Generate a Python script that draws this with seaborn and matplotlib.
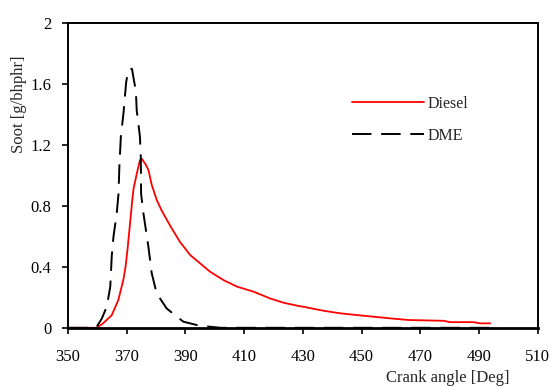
import numpy as np
import pandas as pd
import seaborn as sns
import matplotlib.pyplot as plt

# soot vs crank angle
diesel_angle = [350, 358, 359.8, 362, 364.9, 367.1, 368.8, 369.6, 370.3, 371.1, 371.9, 372.3,
                373.4, 374.5, 375.1, 376.2, 376.8, 377.4, 378.5, 380.2, 381.9, 384.8, 388.1,
                391.6, 395, 398.4, 403, 407.6, 413.2, 418.8, 423.5, 428.6, 430.2, 437, 442.7,
                451.8, 459.7, 466, 477.9, 480.2, 488.1, 490.4, 493.8]
diesel_soot = [0, 0, 0, 0.03, 0.083, 0.18, 0.31, 0.40, 0.52, 0.68, 0.84, 0.91,
               1.01, 1.10, 1.11, 1.08, 1.06, 1.036, 0.94, 0.84, 0.77, 0.67, 0.565,
               0.478, 0.423, 0.368, 0.313, 0.27, 0.237, 0.193, 0.164, 0.143, 0.138, 0.112, 0.095,
               0.077, 0.062, 0.051, 0.046, 0.037, 0.037, 0.029, 0.029]

dme_angle = [350, 358, 359.8, 361.5, 363.2, 364.4, 364.9, 365.5, 366.6, 367.2, 367.5, 368.0,
             368.9, 369.8, 370.5, 371.1, 371.8, 372.5, 373.1, 373.4, 374.5, 374.8, 374.9,
             375.7, 377.4, 378.5, 380.2, 383.6, 387.6, 389.3, 393.9, 398.4, 402, 494]
dme_soot = [0, 0, 0.007, 0.06, 0.138, 0.27, 0.47, 0.6, 0.75, 0.88, 1.06, 1.255,
            1.41, 1.61, 1.69, 1.70, 1.70, 1.62, 1.56, 1.43, 1.255, 1.12, 0.88,
            0.75, 0.53, 0.36, 0.226, 0.127, 0.065, 0.04, 0.018, 0.007, 0, 0]

x_ticks = [350, 370, 390, 410, 430, 450, 470, 490, 510]
y_ticks = [0, 0.4, 0.8, 1.2, 1.6, 2]
y_tick_labels = ['0', '0.4', '0.8', '1.2', '1.6', '2']

sns.set_style('white')
plt.rcParams['font.family'] = ['Liberation Serif', 'DejaVu Serif']

df_diesel = pd.DataFrame({'angle': diesel_angle, 'soot': diesel_soot})
df_dme = pd.DataFrame({'angle': dme_angle, 'soot': dme_soot})

fig, ax = plt.subplots(figsize=(5.55, 3.87), dpi=100)
fig.subplots_adjust(left=0.1225, right=0.969, top=0.94, bottom=0.153)

sns.lineplot(data=df_diesel, x='angle', y='soot', color='#ff0000', linewidth=1.3,
             label='Diesel', ax=ax, sort=False)
sns.lineplot(data=df_dme, x='angle', y='soot', color='black', linewidth=1.4,
             label='DME', ax=ax, sort=False)
ax.lines[1].set_dashes([10, 5])

ax.set_xlim(350, 510)
ax.set_ylim(0, 2)
ax.set_xticks(x_ticks)
ax.set_yticks(y_ticks)
ax.set_yticklabels(y_tick_labels)
ax.tick_params(axis='both', direction='out', length=4, width=1.2, labelsize=12,
               bottom=True, left=True, colors='black')
ax.tick_params(axis='x', pad=11)
ax.tick_params(axis='y', pad=8)

for s in ax.spines.values():
    s.set_color('black')
    s.set_linewidth(1.4)
ax.spines['bottom'].set_linewidth(2)

ax.set_xlabel('Crank angle [Deg]', fontsize=12)
ax.set_ylabel('Soot [g/bhphr]', fontsize=12)
ax.xaxis.set_label_coords(0.808, -0.138)
ax.yaxis.set_label_coords(-0.088, 0.733)

leg = ax.legend(loc='upper left', bbox_to_anchor=(0.605, 0.762), frameon=False, fontsize=11.5,
                handlelength=4.5, handletextpad=0.25, borderpad=0, borderaxespad=0,
                labelspacing=1.0)

fig.savefig('out.png', dpi=100)
